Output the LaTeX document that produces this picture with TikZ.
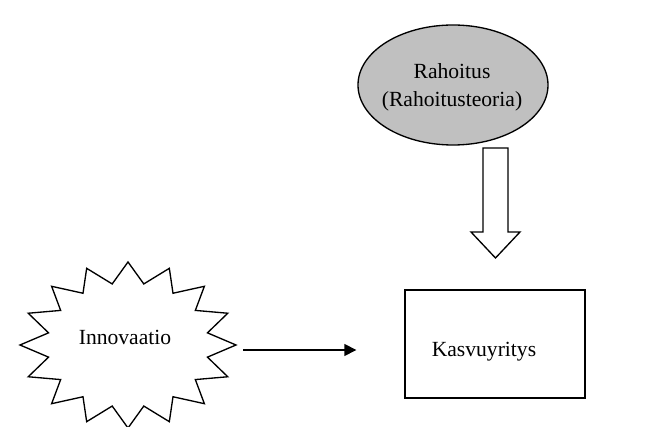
\documentclass[tikz,border=0pt]{standalone}
\usepackage{fontspec}
\setmainfont{Liberation Serif}
\usetikzlibrary{shapes.geometric,arrows.meta}
\definecolor{finfill}{HTML}{C0C0C0}
\begin{document}
\begin{tikzpicture}[x=0.75pt,y=-0.75pt,
  outline/.style={draw=black,line width=1pt},
  txt/.style={font=\fontsize{16.2}{21}\selectfont,inner sep=0pt},
  flow/.style={line width=1pt,-{Triangle[length=9pt,width=9pt]}}]
\useasboundingbox (0,0) rectangle (658,427);
\clip (0,0) rectangle (658,427);

% financing source
\node[outline,ellipse,fill=finfill,inner sep=0pt,
      minimum width=142.5pt,minimum height=90pt] (fin) at (453,85) {};
\node[txt,anchor=base] (finA) at (452,79) {Rahoitus};
\node[txt,anchor=base] (finB) at (452,107) {(Rahoitusteoria)};

% block arrow from financing down to the firm
\draw[outline,fill=white,miter limit=10]
  (483,148) -- (508,148) -- (508,232) -- (520,232) -- (495.5,258)
  -- (471,232) -- (483,232) -- cycle;

% innovation burst (16 points)
\draw[outline,fill=white,shift={(128,345)}]
  (0:108 and 83)
  \foreach \k in {1,...,31} {
    -- ({\k*11.25}:{108*(1-0.25*mod(\k,2))} and {83*(1-0.25*mod(\k,2))})
  } -- cycle;
\node[txt,anchor=base] (inno) at (125,345) {Innovaatio};

% growth firm
\node[outline,minimum width=135pt,minimum height=81pt,inner sep=0pt]
  (firm) at (495,344) {};
\node[txt,anchor=base] (firmtxt) at (484,357) {Kasvuyritys};

% innovation feeds the firm
\coordinate (a0) at (243,350);
\draw[flow,shorten >=36pt] (a0) -- (firm.west |- a0);
\end{tikzpicture}
\end{document}
